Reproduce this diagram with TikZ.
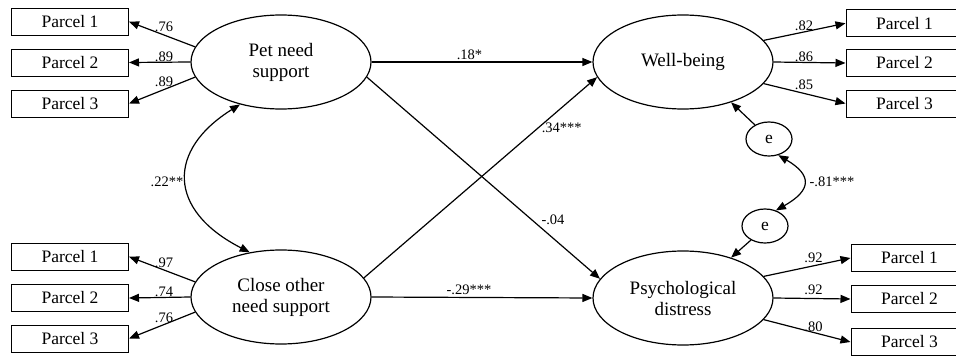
\documentclass[tikz,border=0pt]{standalone}
\usepackage{fontspec}
\setmainfont{Liberation Serif}
\usetikzlibrary{shapes.geometric,arrows.meta}

\begin{document}
\begin{tikzpicture}[x=1pt,y=-1pt,
  lat/.style={ellipse,draw,line width=1.2pt,minimum width=180pt,minimum height=94pt,
    inner sep=0pt,align=center,font=\fontsize{19}{21}\selectfont},
  ind/.style={rectangle,draw,line width=1pt,minimum width=117pt,minimum height=27pt,
    inner sep=0pt,font=\fontsize{17.5}{20}\selectfont},
  err/.style={ellipse,draw,line width=1.2pt,minimum width=46pt,minimum height=34pt,
    inner sep=0pt,font=\fontsize{17.5}{20}\selectfont},
  arr/.style={-{Triangle[length=10pt,width=8pt]},line width=1.2pt},
  cov/.style={{Triangle[length=10pt,width=8pt]}-{Triangle[length=10pt,width=8pt]},line width=1.2pt},
  coef/.style={font=\fontsize{14.5}{16}\selectfont,inner sep=0pt},
]
\clip (0,0) rectangle (956,356);
\fill[white] (0,0) rectangle (956,356);

% latent variables
\node[lat] (pet)   at (281,62)  {Pet need\\support};
\node[lat] (close) at (281,297) {Close other\\need support};
\node[lat] (wb)    at (683,62)  {Well-being};
\node[lat] (psych) at (683,298) {Psychological\\distress};

% indicators
\node[ind] (lp1) at (70,21.7)  {Parcel 1};
\node[ind] (lp2) at (70,62.5)  {Parcel 2};
\node[ind] (lp3) at (70,103.5) {Parcel 3};
\node[ind] (lc1) at (70,256.7) {Parcel 1};
\node[ind] (lc2) at (70,298)   {Parcel 2};
\node[ind] (lc3) at (70,338.5) {Parcel 3};
\node[ind] (rw1) at (904.5,23.3)  {Parcel 1};
\node[ind] (rw2) at (904.5,63)    {Parcel 2};
\node[ind] (rw3) at (904.5,103.5) {Parcel 3};
\node[ind] (rp1) at (909.5,258) {Parcel 1};
\node[ind] (rp2) at (909.5,299) {Parcel 2};
\node[ind] (rp3) at (909.5,342) {Parcel 3};

% residuals
\node[err] (ue) at (769,139) {e};
\node[err] (le) at (765,226) {e};

% loadings
\draw[arr] (pet.170) -- (lp1.east);
\draw[arr] (pet.west) -- (lp2.east);
\draw[arr] (pet.190) -- (lp3.east);
\draw[arr] (close.170) -- (lc1.east);
\draw[arr] (close.west) -- (lc2.east);
\draw[arr] (close.190) -- (lc3.east);
\draw[arr] (wb.15) -- (rw1.west);
\draw[arr] (wb.east) -- (rw2.west);
\draw[arr] (wb.-15) -- (rw3.west);
\draw[arr] (psych.15) -- (rp1.west);
\draw[arr] (psych.east) -- (rp2.west);
\draw[arr] (psych.-15) -- (rp3.west);

% structural paths
\draw[arr] (pet.east) -- (wb.west);
\draw[arr] (pet.-10) -- (psych.167);
\draw[arr] (close.13) -- (wb.190);
\draw[arr] (close.east) -- (psych.west);
\draw[arr] (ue.135) -- (wb.-40);
\draw[arr] (le.225) -- (psych.40);

% covariances
\draw[cov] (pet.226) .. controls (167,150) and (167,210) .. (close.125);
\draw[cov] (ue.-60) .. controls (812,175) and (812,190) .. (le.55);

% coefficients
\node[coef] at (164,27)  {.76};
\node[coef] at (164,56.5) {.89};
\node[coef] at (164,82)  {.89};
\node[coef] at (164,263) {.97};
\node[coef] at (164,292) {.74};
\node[coef] at (164,318) {.76};
\node[coef] at (804,26)  {.82};
\node[coef] at (804,57)  {.86};
\node[coef] at (804,85)  {.85};
\node[coef] at (813.5,258) {.92};
\node[coef] at (813.5,290) {.92};
\node[coef] at (813.5,327) {.80};
\node[coef] at (469.5,55) {.18*};
\node[coef] at (561.7,128) {.34***};
\node[coef] at (553,220) {-.04};
\node[coef] at (469,289.5) {-.29***};
\node[coef] at (167,182) {.22**};
\node[coef] at (832,182) {-.81***};
\end{tikzpicture}
\end{document}
